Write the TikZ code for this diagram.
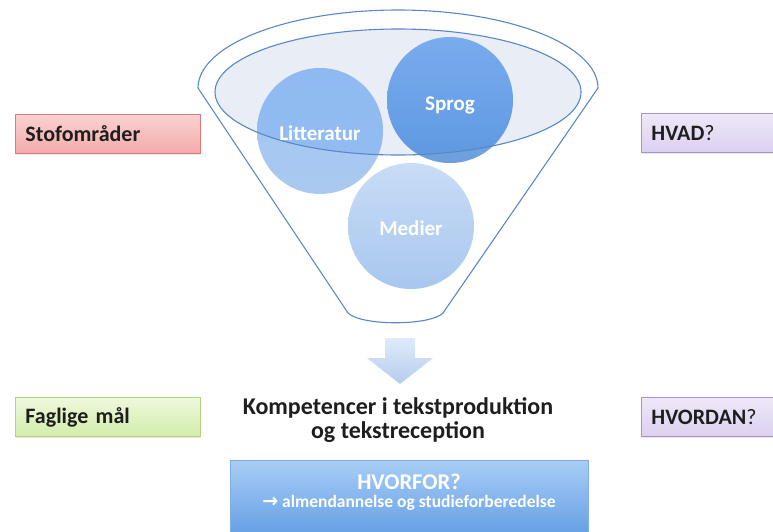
\documentclass[tikz,border=0pt]{standalone}
\usepackage{fontspec}
\setmainfont{Carlito}
\newfontfamily\arrowfont{DejaVu Sans}
\usetikzlibrary{shadows}
\definecolor{funnelline}{HTML}{5A88C6}
\definecolor{innerfill}{HTML}{E9EDF5}
\definecolor{redfill1}{HTML}{FAD2D2}
\definecolor{redfill2}{HTML}{F4AAAA}
\definecolor{redline}{HTML}{E07A7A}
\definecolor{greenfill1}{HTML}{EEF8DC}
\definecolor{greenfill2}{HTML}{D3EDAA}
\definecolor{greenline}{HTML}{B0D47E}
\definecolor{purfill1}{HTML}{EEE8F8}
\definecolor{purfill2}{HTML}{DCD0F0}
\definecolor{purline}{HTML}{A892D2}
\definecolor{bluebox1}{HTML}{A8CDF6}
\definecolor{bluebox2}{HTML}{609CE2}
\definecolor{blueboxline}{HTML}{7EAEE4}
\definecolor{arrowtop}{HTML}{E0EBFA}
\definecolor{arrowbot}{HTML}{B3CCEE}
\definecolor{circA1}{HTML}{A3C6F0}
\definecolor{circA2}{HTML}{A9C9F0}
\definecolor{circS1}{HTML}{8AB6EC}
\definecolor{circS2}{HTML}{6C9FDD}
\definecolor{circM1}{HTML}{C8DCF6}
\definecolor{circM2}{HTML}{A8C7EE}
\definecolor{textdark}{HTML}{1E1E1E}
\begin{document}
\begin{tikzpicture}[x=1pt,y=-1pt,
  tagbox/.style={draw=#1line, line width=0.9pt, anchor=north west,
    top color=#1fill1, bottom color=#1fill2,
    minimum height=39pt, text width=165pt, inner xsep=10pt, align=left,
    text=textdark, font=\bfseries\fontsize{22}{24}\selectfont,
    drop shadow={opacity=0.18, shadow xshift=0.8pt, shadow yshift=-1.5pt}},
  rtagbox/.style={tagbox=#1, text width=150pt},
  circlabel/.style={text=white, font=\bfseries\fontsize{21}{24}\selectfont},
  funnelstroke/.style={draw=funnelline, line width=1.1pt}
]
\useasboundingbox (0,0) rectangle (773,531);

% funnel outline
\path[funnelstroke, fill=white] (198,88) arc[start angle=180, end angle=360, x radius=200, y radius=78]
  -- (443,313) .. controls (430,326) and (361,326) .. (348,313) -- cycle;

% inner ellipse fill
\fill[innerfill] (398,92) ellipse[x radius=183, y radius=63];

% circles
\shade[top color=circA1, bottom color=circA2] (320,131) circle[radius=63];
\shade[top color=circS1, bottom color=circS2] (450,100) circle[radius=63];
\shade[top color=circM1, bottom color=circM2] (411,226) circle[radius=63];
\begin{scope}
  \clip (398,92) ellipse[x radius=183, y radius=63];
  \fill[blue!60!cyan, opacity=0.12] (320,131) circle[radius=63];
  \fill[blue!60!cyan, opacity=0.12] (450,100) circle[radius=63];
\end{scope}
\draw[funnelline, line width=1.1pt] (398,92) ellipse[x radius=183, y radius=63];

\node[circlabel] (litt) at (320,133) {Litteratur};
\node[circlabel] (sprog) at (450,105) {Sprog};
\node[circlabel] (medier) at (411,228) {Medier};

% down arrow
\shade[top color=arrowtop, bottom color=arrowbot]
  (385,338) -- (415,338) -- (415,358) -- (433,358) -- (400,384) -- (367,358) -- (385,358) -- cycle;

% competence text
\node[align=center, text=textdark, font=\bfseries\fontsize{24}{24}\selectfont] (komp) at (398,420)
  {Kompetencer i tekstproduktion\\og tekstreception};

% side boxes
\node[tagbox=red] (stof) at (15,114) {Stofområder};
\node[tagbox=green] (fag) at (15,397) {Faglige mål};
\node[rtagbox=pur] (hvad) at (641,113) {HVAD\mdseries ?};
\node[rtagbox=pur] (hvordan) at (641,397) {HVORDAN\mdseries ?};

% bottom blue box
\node[anchor=north west, draw=blueboxline, line width=0.8pt, top color=bluebox1, bottom color=bluebox2,
  minimum width=358pt, minimum height=80pt] (hvorfor) at (230,460) {};
\node[text=white, font=\bfseries\fontsize{22.5}{24}\selectfont] (hvorfort) at (409,482) {HVORFOR?};
\node[text=white, font=\bfseries\fontsize{17.5}{20}\selectfont] (almen) at (409,503)
  {{\arrowfont\fontsize{19}{20}\selectfont →} almendannelse og studieforberedelse};
\end{tikzpicture}
\end{document}
